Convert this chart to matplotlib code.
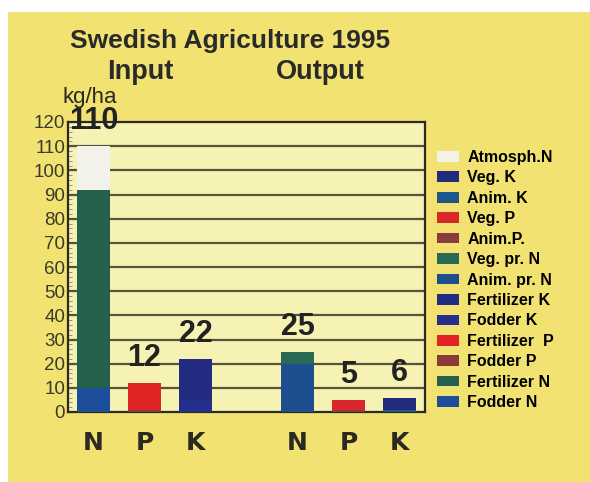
import numpy as np
import matplotlib
matplotlib.use("Agg")
import matplotlib.pyplot as plt
from matplotlib.patches import Rectangle, Patch

# data (kg/ha)
bar_labels = ["N", "P", "K", "N", "P", "K"]
bar_pos = [0, 1, 2, 4, 5, 6]

# stacked components per bar, bottom -> top
input_n = {"Fodder N": 10, "Fertilizer N": 82, "Atmosph.N": 18}
input_p = {"Fodder P": 1, "Fertilizer  P": 11}
input_k = {"Fodder K": 5, "Fertilizer K": 17}
output_n = {"Anim. pr. N": 20, "Veg. pr. N": 5}
output_p = {"Anim.P.": 1, "Veg. P": 4}
output_k = {"Anim. K": 1, "Veg. K": 5}
stacks = [input_n, input_p, input_k, output_n, output_p, output_k]

legend_order = ["Atmosph.N", "Veg. K", "Anim. K", "Veg. P", "Anim.P.",
                "Veg. pr. N", "Anim. pr. N", "Fertilizer K", "Fodder K",
                "Fertilizer  P", "Fodder P", "Fertilizer N", "Fodder N"]
colors = {
    "Atmosph.N": "#f3f2ea", "Veg. K": "#232c7c", "Anim. K": "#1d5888",
    "Veg. P": "#d8282c", "Anim.P.": "#8c3c3a", "Veg. pr. N": "#2a6a55",
    "Anim. pr. N": "#1c4e90", "Fertilizer K": "#232b80", "Fodder K": "#252e8c",
    "Fertilizer  P": "#e02424", "Fodder P": "#8a3a38", "Fertilizer N": "#24604a",
    "Fodder N": "#1c4e9c",
}

W, H = 590, 482
fig = plt.figure(figsize=(W / 100, H / 100), dpi=100, facecolor="white")
fig.patches.append(Rectangle((8 / W, 0), 1, (H - 12) / H, transform=fig.transFigure,
                             facecolor="#f1e272", edgecolor="none", zorder=-5))

ax = fig.add_axes([68 / W, (H - 412) / H, (425 - 68) / W, (412 - 122) / H])
ax.set_zorder(2)
ax.set_facecolor("#f6f2b4")
ax.set_xlim(-0.5, 6.5)
ax.set_ylim(0, 120)

for y in range(10, 120, 10):
    ax.axhline(y, color="#55533a", lw=1.6, zorder=1)

for x, stack in zip(bar_pos, stacks):
    bottom = 0
    for name, val in stack.items():
        ax.bar(x, val, bottom=bottom, width=0.65, color=colors[name],
               edgecolor="none", zorder=3)
        bottom += val
    ax.annotate(f"{bottom:g}", (x, bottom), xytext=(0, 7), textcoords="offset points",
                ha="center", va="bottom", fontsize=22, fontweight="bold",
                color="#222222", family="Liberation Sans", zorder=5,
                annotation_clip=False)

for s in ax.spines.values():
    s.set_color("#2a2a20")
    s.set_linewidth(1.6)

ax.set_yticks(range(0, 121, 10))
ax.set_yticks(range(0, 121, 2), minor=True)
ax.tick_params(axis="y", which="major", direction="in", length=5, pad=2,
               labelsize=13.5, labelcolor="#3a3a28", color="#55533a")
ax.tick_params(axis="y", which="minor", direction="in", length=3, color="#8a8870")
ax.set_xticks(bar_pos)
ax.set_xticklabels(bar_labels, fontsize=18, fontweight="bold", color="#2a2a20")
ax.tick_params(axis="x", length=0, pad=14)
for lbl in ax.get_yticklabels():
    lbl.set_family("Liberation Sans")

fig.text(62 / W, 1 - 97 / H, "kg/ha", fontsize=16, color="#2a2a20",
         family="Liberation Sans", va="center", ha="left")
fig.text(230 / W, 1 - 41 / H, "Swedish Agriculture 1995", fontsize=19,
         fontweight="bold", color="#2a2a2a", ha="center", va="center",
         family="Liberation Sans")
fig.text(140 / W, 1 - 72 / H, "Input", fontsize=19.5, fontweight="bold",
         color="#2a2a2a", ha="center", va="center", family="Liberation Sans")
fig.text(320 / W, 1 - 72 / H, "Output", fontsize=19.5, fontweight="bold",
         color="#2a2a2a", ha="center", va="center", family="Liberation Sans")

handles = [Patch(facecolor=colors[n], edgecolor="none", label=n) for n in legend_order]
fig.legend(handles=handles, loc="upper left", bbox_to_anchor=(437 / W, 1 - 150 / H),
           frameon=False, handlelength=1.35, handleheight=0.65, handletextpad=0.55,
           labelspacing=0.34, borderpad=0, borderaxespad=0,
           prop={"size": 11.5, "weight": "bold", "family": "Liberation Sans"})

fig.savefig("out.png", dpi=100, facecolor=fig.get_facecolor())
